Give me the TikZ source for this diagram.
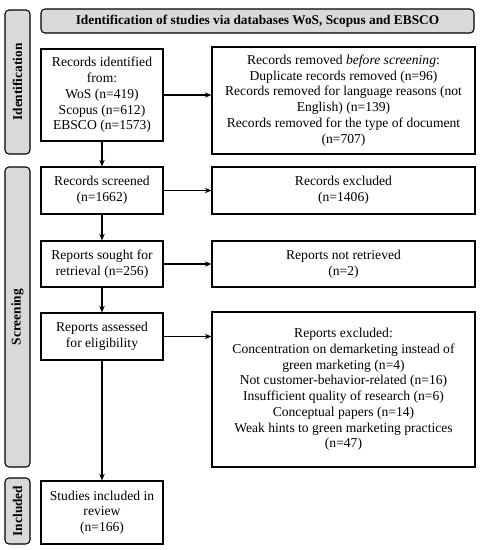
\documentclass[tikz,border=0pt]{standalone}
\usepackage{fontspec}
\setmainfont{Liberation Serif}
\usepackage{tikz}
\usetikzlibrary{arrows.meta,positioning,calc}

\begin{document}
\begin{tikzpicture}[x=0.75pt,y=-0.75pt,>={Stealth[length=5pt,width=4pt]},
  font=\fontsize{10.2}{11.8}\selectfont,
  box/.style={draw,line width=0.8pt,align=center,inner sep=1pt},
  side/.style={draw,line width=0.8pt,rounded corners=3pt,fill=black!15,inner sep=0pt,
    font=\fontsize{10}{11}\selectfont\bfseries}]
\useasboundingbox (0,0) rectangle (481,550);

\node[side,minimum width=433*0.75pt,minimum height=24*0.75pt] (title) at (257.5,21) {Identification of studies via databases WoS, Scopus and EBSCO};

\node[side,minimum width=144*0.75pt,minimum height=25*0.75pt,rotate=90] (sideI) at (17.5,82) {Identification};
\node[side,minimum width=300*0.75pt,minimum height=25*0.75pt,rotate=90] (sideS) at (17.5,317) {Screening};
\node[side,minimum width=66*0.75pt,minimum height=25*0.75pt,rotate=90] (sideN) at (17.5,511) {Included};

\node[box,minimum width=122*0.75pt,minimum height=92*0.75pt] (ident) at (102,95) {Records identified\\from:\\WoS (n=419)\\Scopus (n=612)\\EBSCO (n=1573)};
\node[box,minimum width=263*0.75pt,minimum height=107*0.75pt] (removed) at (343.5,100.5) {Records removed \emph{before screening}:\\Duplicate records removed (n=96)\\Records removed for language reasons (not\\English) (n=139)\\Records removed for the type of document\\(n=707)};

\node[box,minimum width=122*0.75pt,minimum height=47*0.75pt] (screened) at (102,190.5) {Records screened\\(n=1662)};
\node[box,minimum width=263*0.75pt,minimum height=47*0.75pt] (excl) at (343.5,190.5) {Records excluded\\(n=1406)};

\node[box,minimum width=122*0.75pt,minimum height=46*0.75pt] (sought) at (102,264) {Reports sought for\\retrieval (n=256)};
\node[box,minimum width=263*0.75pt,minimum height=46*0.75pt] (notret) at (343.5,264) {Reports not retrieved\\(n=2)};

\node[box,minimum width=122*0.75pt,minimum height=47*0.75pt] (assessed) at (102,336.5) {Reports assessed\\for eligibility};
\node[box,minimum width=263*0.75pt,minimum height=155*0.75pt] (repexcl) at (343.5,389.5) {Reports excluded:\\Concentration on demarketing instead of\\green marketing (n=4)\\Not customer-behavior-related (n=16)\\Insufficient quality of research (n=6)\\Conceptual papers (n=14)\\Weak hints to green marketing practices\\(n=47)};

\node[box,minimum width=122*0.75pt,minimum height=63*0.75pt] (incl) at (102,512.5) {Studies included in\\review\\(n=166)};

\draw[->,line width=0.8pt] (ident.east) -- (ident.east -| removed.west);
\draw[->,line width=0.8pt] (screened) -- (excl);
\draw[->,line width=0.8pt] (sought) -- (notret);
\draw[->,line width=0.8pt] (assessed.east) -- (assessed.east -| repexcl.west);
\draw[->,line width=0.8pt] (ident) -- (screened);
\draw[->,line width=0.8pt] (screened) -- (sought);
\draw[->,line width=0.8pt] (sought) -- (assessed);
\draw[->,line width=0.8pt] (assessed) -- (incl);
\end{tikzpicture}
\end{document}
